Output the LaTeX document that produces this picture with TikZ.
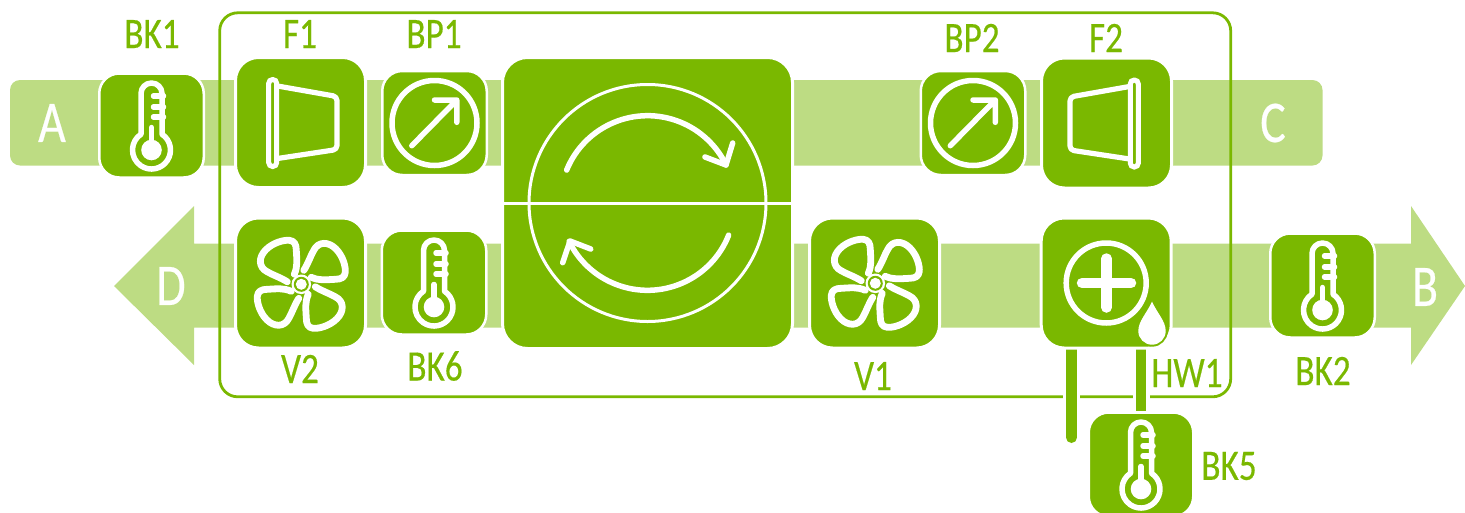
\documentclass[tikz,border=0pt]{standalone}
\usepackage{fontspec}
\setmainfont{Carlito}[FakeStretch=0.81,FakeBold=0.4]
\definecolor{leaf}{HTML}{7AB800}
\definecolor{pale}{HTML}{BDDC83}
\tikzset{
  iconline/.style={draw=white,line width=5.5pt,line cap=round,line join=round},
  bigbox/.style={fill=leaf,draw=white,line width=3pt,rounded corners=23pt,inner sep=0pt,minimum width=130pt,minimum height=130pt},
  smallbox/.style={fill=leaf,draw=white,line width=2.5pt,rounded corners=20pt,inner sep=0pt,minimum width=104.5pt,minimum height=104pt},
  caption/.style={text=leaf,inner sep=0pt,font=\fontsize{43.5}{44}\selectfont},
  letter/.style={text=white,inner sep=0pt,font=\fontsize{59}{60}\selectfont},
  thermo/.pic={
    \draw[iconline] (-10.5,8.7) -- (-10.5,-32) arc[start angle=180,end angle=360,radius=10.5pt]
      -- (10.5,8.7) arc[start angle=-56.4,end angle=236.4,radius=19pt] -- cycle;
    \fill[white] (0,24.5) circle[radius=10.3pt];
    \draw[iconline] (0,24.5) -- (0,2);
    \draw[iconline] (2,-29.5) -- (12,-29.5) (2,-18.5) -- (12,-18.5) (2,-8.5) -- (12,-8.5);
  },
  bypass/.pic={
    \draw[iconline] (0,0) circle[radius=42.5pt];
    \draw[iconline] (-22.7,22.7) -- (22.3,-23) (0,-23) -- (22.3,-23) -- (22.3,-0.7);
  },
  filtericon/.pic={
    \draw[draw=white,line width=5.2pt,line join=round,rounded corners=4pt] (-23,-36.5) -- (36.5,-26) -- (36.5,27) -- (-23,36);
    \draw[draw=white,line width=5pt,rounded corners=3.9pt] (-31.8,-43) rectangle (-23.8,44);
  },
  fanicon/.pic={
    \foreach \a in {0,90,180,270}
      \draw[iconline,line width=6.8pt,rotate=\a] (-14,-2.5)
        .. controls (-21,-7) and (-28,-9) .. (-34,-12.5)
        .. controls (-43,-17) and (-43,-27) .. (-35.5,-34.5)
        .. controls (-28,-42) and (-17,-44.5) .. (-12,-44)
        .. controls (-7,-43.5) and (-5,-40) .. (-5,-34)
        .. controls (-4.5,-24) and (-3.5,-18) .. (-7,-10);
    \fill[white] (0,0) circle[radius=9.8pt];
    \fill[leaf] (0,0) circle[radius=7.5pt];
    \fill[white] (0,0) circle[radius=5.5pt];
  }
}
\begin{document}
\begin{tikzpicture}[x=1pt,y=1pt,yscale=-1]
\clip (0,0) rectangle (1465,512);
% air streams
\fill[pale,rounded corners=10pt] (10,80) rectangle (1322.5,165.5);
\fill[pale] (114,286) -- (194,206) -- (194,243.5) -- (1411,243.5) -- (1411,206) -- (1465,286)
  -- (1411,365) -- (1411,327.5) -- (194,327.5) -- (194,365) -- cycle;
% unit frame
\draw[leaf,line width=2.8pt,rounded corners=18pt] (219.7,12.8) rectangle (1230.7,396.8);
% pipes
\draw[white,line width=17pt] (1071.5,340) -- (1071.5,420) (1141,340) -- (1141,420);
\draw[leaf,line width=11pt,line cap=round] (1071.5,340) -- (1071.5,437.5);
\draw[leaf,line width=10.5pt] (1141,340) -- (1141,411);
% boxes
\node[bigbox] (f1box) at (300.5,122.5) {};
\node[bigbox] (v2box) at (300.5,283) {};
\node[bigbox] (v1box) at (874.5,283) {};
\node[bigbox] (hwbox) at (1106.2,283) {};
\node[bigbox] (f2box) at (1106.5,123) {};
\node[smallbox] (bk1box) at (151.5,125.5) {};
\node[smallbox] (bp1box) at (434.5,123) {};
\node[smallbox] (bk6box) at (434,282.5) {};
\node[smallbox] (bp2box) at (973,123) {};
\node[smallbox] (bk2box) at (1322.5,285.5) {};
\node[smallbox] (bk5box) at (1141,464.5) {};
\node[fill=leaf,draw=white,line width=3pt,rounded corners=25pt,inner sep=0pt,minimum width=290pt,minimum height=291pt] (wheel) at (647.5,203) {};
% icons
\path (bk1box.center) pic[yscale=-1] {thermo};
\path (bk6box.center) pic[yscale=-1] {thermo};
\path (bk2box.center) pic[yscale=-1] {thermo};
\path (bk5box.center) pic[yscale=-1] {thermo};
\path (bp1box.center) pic[yscale=-1] {bypass};
\path (bp2box.center) pic[yscale=-1] {bypass};
\path (f1box.center) pic[yscale=-1] {filtericon};
\path (f2box.center) pic[xscale=-1,yscale=-1] {filtericon};
\path (301.3,284.3) pic[yscale=-1] {fanicon};
\path (875.3,283.3) pic[yscale=-1] {fanicon};
% heater
\draw[iconline] (hwbox.center) ++(0,0) circle[radius=40pt];
\draw[white,line width=10.5pt,line cap=round] (1106.5,258.5) -- (1106.5,307.5) (1082,283) -- (1131,283);
\draw[leaf,line width=4pt,fill=white,line join=round] (1152,301.5) .. controls (1157,313) and (1165.7,321) .. (1165.7,331)
  arc[start angle=0,end angle=180,radius=13.7pt] .. controls (1138.3,321) and (1147,313) .. cycle;
\fill[white] (1152,301.5) .. controls (1157,313) and (1165.7,321) .. (1165.7,331)
  arc[start angle=0,end angle=180,radius=13.7pt] .. controls (1138.3,321) and (1147,313) .. cycle;
% heat wheel
\draw[white,line width=3pt] (504,203) -- (791,203);
\draw[white,line width=3pt] (647.5,203) circle[radius=118.5pt];
\draw[iconline] (647.5,203) ++(202.2:87.3) arc[start angle=202.2,end angle=334.2,radius=87.3pt];
\draw[iconline] (705,157) -- (726,165) -- (732.7,143);
\draw[iconline] (647.5,203) ++(21.6:87.3) arc[start angle=21.6,end angle=153.9,radius=87.3pt];
\draw[iconline] (590.7,249) -- (570,241) -- (562.7,262.7);
% labels
\node[caption] (lbk1) at (152,34) {BK1};
\node[caption] (lf1) at (300,34) {F1};
\node[caption] (lbp1) at (434,34) {BP1};
\node[caption] (lbp2) at (972,38) {BP2};
\node[caption] (lf2) at (1106,38) {F2};
\node[caption] (lv2) at (300,369) {V2};
\node[caption] (lbk6) at (435,366) {BK6};
\node[caption] (lv1) at (873,376) {V1};
\node[caption] (lhw) at (1187,373) {HW1};
\node[caption] (lbk5) at (1229,466) {BK5};
\node[caption] (lbk2) at (1323,371) {BK2};
\node[letter] (la) at (52,123) {A};
\node[letter] (lc) at (1273,123) {C};
\node[letter] (ld) at (171,286) {D};
\node[letter] (lb) at (1425,287) {B};
\end{tikzpicture}
\end{document}
